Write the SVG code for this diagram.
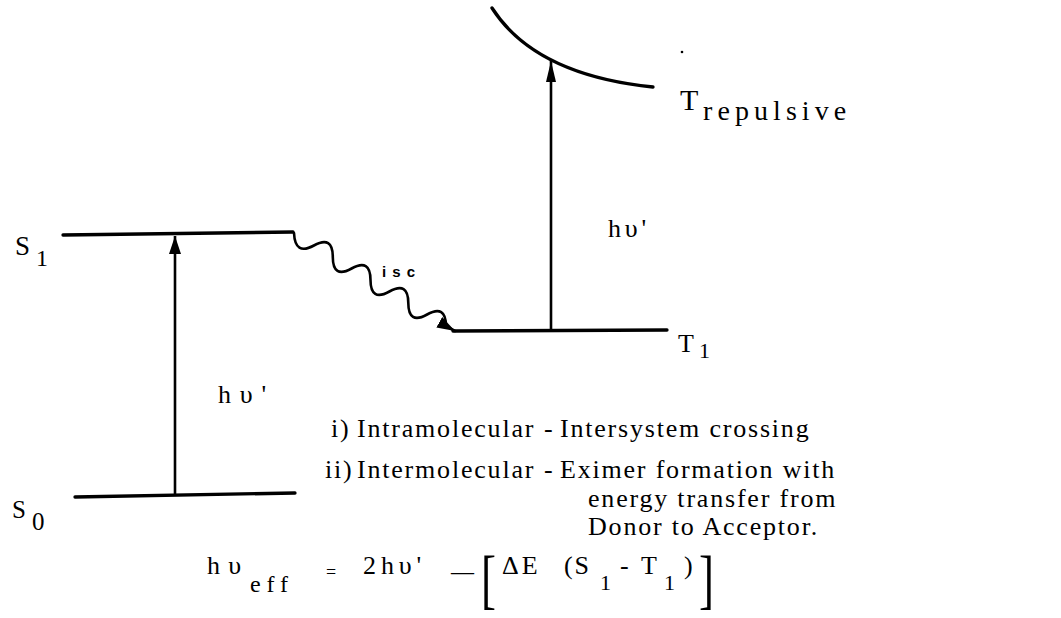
<svg xmlns="http://www.w3.org/2000/svg" width="1061" height="618" viewBox="0 0 1061 618">
<style>
.lv{stroke:#000;stroke-width:3.3;fill:none;stroke-linecap:round}
.ar{stroke:#000;stroke-width:2.6;fill:none}
.t{font-family:"Liberation Serif","Times New Roman",serif;font-size:26px;fill:#000;letter-spacing:1.8px}
.s{font-family:"Liberation Serif","Times New Roman",serif;font-size:22px;fill:#000}
.br{font-family:"Liberation Serif","Times New Roman",serif;font-size:45px;fill:#000}
.isc{font-family:"Liberation Sans",Arial,sans-serif;font-size:15px;font-weight:bold;fill:#000}
</style>
<defs>
<marker id="ah" markerUnits="userSpaceOnUse" markerWidth="20" markerHeight="14" refX="18" refY="6" orient="auto">
<path d="M0,0 L18,6 L0,12 z" fill="#000"/>
</marker>
<marker id="ahn" markerUnits="userSpaceOnUse" markerWidth="24" markerHeight="12" refX="21" refY="5" orient="auto">
<path d="M0,0 L21,5 L0,10 z" fill="#000"/>
</marker>
</defs>
<rect width="1061" height="618" fill="#fff"/>

<g id="S1">
<path class="lv" d="M63,235 L293,232"/>
<text class="t" x="15" y="255" style="font-size:27px">S</text>
<text class="s" x="36" y="266" style="font-size:24px">1</text>
</g>

<g id="S0">
<path class="lv" d="M75,497 L295,493"/>
<text class="t" x="12" y="518" style="font-size:25px">S</text>
<text class="s" x="32" y="530" style="font-size:25px">0</text>
</g>

<g id="T1">
<path class="lv" d="M453,331 L667,330"/>
<text class="t" x="678" y="352" style="font-size:26px">T</text>
<text class="s" x="699" y="358">1</text>
</g>

<g id="Trepulsive">
<path class="lv" d="M492,8 Q535,75 653,87"/>
<circle cx="682" cy="52" r="1.3" fill="#000"/>
<text class="t" x="680" y="110" style="font-size:30px">T</text>
<text class="t" x="703" y="120" style="font-size:28px" textLength="145" lengthAdjust="spacing">repulsive</text>
</g>

<g id="connectors">
<path class="ar" d="M175,495 L175,236" marker-end="url(#ah)"/>
<path class="ar" d="M551,330 L551,61" marker-end="url(#ahn)"/>
<path class="ar" stroke-width="3.2" stroke-linecap="round" d="M294,233 Q295,256 313.9,245.5 T332.8,257 T351.6,268.5 T370.5,280 T389.4,291.5 T408.3,303 T427.1,314.5 T446,326 L455,331" marker-end="url(#ah)"/>
<text class="t" x="218" y="403" style="font-size:26px" textLength="50" lengthAdjust="spacing">hυ'</text>
<text class="t" x="608" y="237" style="font-size:26px" textLength="40" lengthAdjust="spacing">hυ'</text>
<text class="isc" x="382" y="277" textLength="33" lengthAdjust="spacing">isc</text>
</g>

<g id="notes">
<text class="t" x="331" y="437">i)</text>
<text class="t" x="357" y="437">Intramolecular</text>
<text class="t" x="544" y="437">-</text>
<text class="t" x="560" y="437">Intersystem crossing</text>
<text class="t" x="325" y="478">ii)</text>
<text class="t" x="357" y="478">Intermolecular</text>
<text class="t" x="544" y="478">-</text>
<text class="t" x="560" y="478">Eximer formation with</text>
<text class="t" x="588" y="507">energy transfer from</text>
<text class="t" x="588" y="535">Donor to Acceptor.</text>
</g>

<g id="equation">
<text class="t" x="207" y="574" textLength="36" lengthAdjust="spacing">hυ</text>
<text class="s" x="250" y="592" style="font-size:24px" textLength="38" lengthAdjust="spacing">eff</text>
<text class="t" x="326" y="578" style="font-size:18px">=</text>
<text class="t" x="363" y="574" textLength="60" lengthAdjust="spacing">2hυ'</text>
<text class="t" x="451" y="580" style="letter-spacing:0" textLength="23" lengthAdjust="spacingAndGlyphs">—</text>
<text class="br" transform="translate(481,601) scale(1,1.45)">[</text>
<text class="t" x="502" y="574" style="letter-spacing:3px">ΔE</text>
<text class="t" x="564" y="574">(S</text>
<text class="s" x="600" y="590">1</text>
<text class="t" x="620" y="574">-</text>
<text class="t" x="641" y="574">T</text>
<text class="s" x="664" y="590">1</text>
<text class="t" x="684" y="574">)</text>
<text class="br" transform="translate(699,601) scale(1,1.45)">]</text>
</g>
</svg>
